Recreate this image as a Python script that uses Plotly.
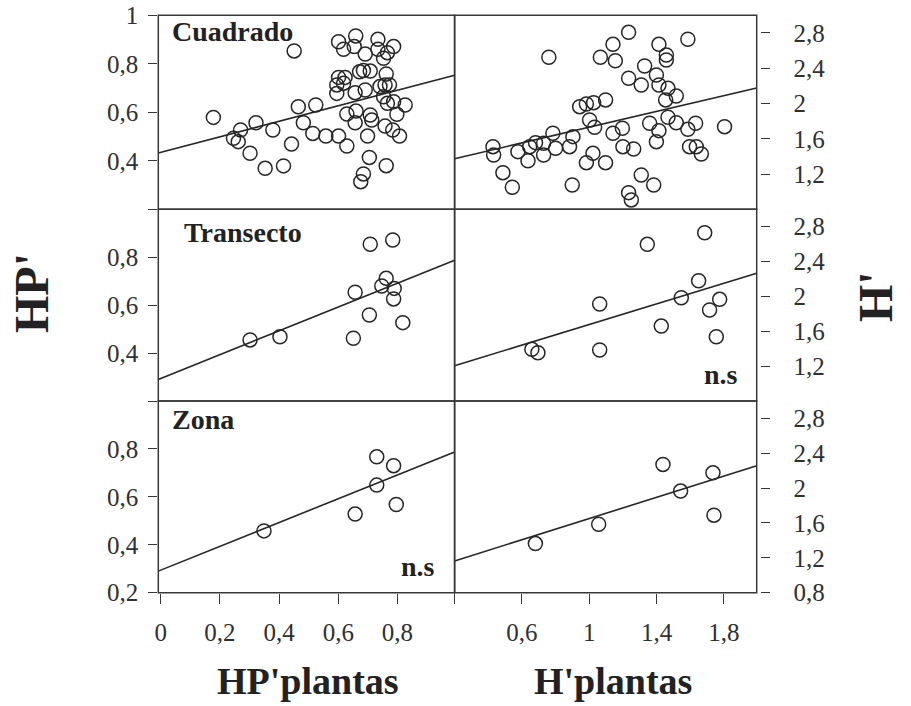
import numpy as np
import plotly.graph_objects as go
from plotly.subplots import make_subplots

# ---------------- data ----------------
panel_names = ["Cuadrado", "Transecto", "Zona"]

# Left column: HP' vs HP'plantas
cuad_hp_x = [0.451, 0.178, 0.601, 0.659, 0.618, 0.654, 0.691, 0.734, 0.734, 0.787,
             0.753, 0.766, 0.601, 0.623, 0.595, 0.618, 0.672, 0.685, 0.708, 0.762,
             0.595, 0.657, 0.691, 0.741, 0.758, 0.773, 0.753, 0.766, 0.787, 0.826,
             0.465, 0.524, 0.482, 0.629, 0.660, 0.708, 0.713, 0.798, 0.657, 0.758,
             0.784, 0.807, 0.322, 0.270, 0.246, 0.262, 0.379, 0.514, 0.558, 0.601,
             0.629, 0.699, 0.442, 0.302, 0.353, 0.415, 0.705, 0.762, 0.685, 0.676]
cuad_hp_y = [0.853, 0.579, 0.891, 0.915, 0.860, 0.871, 0.840, 0.901, 0.860, 0.871,
             0.823, 0.846, 0.744, 0.744, 0.713, 0.720, 0.767, 0.772, 0.770, 0.758,
             0.678, 0.681, 0.692, 0.706, 0.713, 0.713, 0.664, 0.637, 0.644, 0.630,
             0.623, 0.630, 0.557, 0.593, 0.605, 0.589, 0.568, 0.592, 0.557, 0.543,
             0.527, 0.502, 0.557, 0.527, 0.493, 0.479, 0.527, 0.513, 0.502, 0.502,
             0.461, 0.502, 0.469, 0.431, 0.369, 0.379, 0.414, 0.380, 0.346, 0.314]
tran_hp_x = [0.302, 0.403, 0.651, 0.657, 0.705, 0.708, 0.784, 0.747, 0.762, 0.789, 0.787, 0.818]
tran_hp_y = [0.455, 0.468, 0.462, 0.654, 0.559, 0.854, 0.872, 0.680, 0.712, 0.670, 0.626, 0.527]
zona_hp_x = [0.349, 0.657, 0.730, 0.730, 0.787, 0.796]
zona_hp_y = [0.458, 0.528, 0.767, 0.649, 0.730, 0.568]

# Right column: H' vs H'plantas
cuad_h_x = [0.760, 1.234, 1.141, 1.066, 1.155, 1.414, 1.586, 1.458, 1.458, 1.329,
            1.234, 1.309, 1.399, 1.414, 1.468, 1.454, 1.517, 0.943, 0.983, 1.026,
            1.097, 1.002, 1.032, 1.141, 1.197, 1.359, 1.414, 1.468, 1.517, 1.586,
            1.632, 1.804, 1.399, 1.200, 1.264, 1.596, 1.636, 1.666, 0.428, 0.432,
            0.576, 0.636, 0.646, 0.729, 0.729, 0.784, 0.800, 0.883, 0.903, 1.022,
            0.983, 1.097, 0.487, 0.543, 0.899, 1.309, 1.383, 1.234, 1.250, 0.681]
cuad_h_y = [2.524, 2.807, 2.671, 2.524, 2.485, 2.671, 2.728, 2.550, 2.493, 2.425,
            2.286, 2.210, 2.323, 2.210, 2.172, 2.040, 2.085, 1.964, 1.994, 2.009,
            2.040, 1.813, 1.730, 1.662, 1.719, 1.776, 1.692, 1.844, 1.782, 1.707,
            1.776, 1.737, 1.567, 1.510, 1.484, 1.510, 1.510, 1.427, 1.510, 1.416,
            1.454, 1.351, 1.510, 1.549, 1.416, 1.662, 1.492, 1.510, 1.624, 1.435,
            1.329, 1.329, 1.215, 1.050, 1.076, 1.189, 1.076, 0.989, 0.906, 1.556]
tran_h_x = [0.659, 0.695, 1.062, 1.062, 1.345, 1.428, 1.547, 1.650, 1.686, 1.715, 1.775, 1.755]
tran_h_y = [1.393, 1.354, 1.913, 1.385, 2.598, 1.660, 1.985, 2.180, 2.731, 1.844, 1.967, 1.537]
zona_h_x = [0.680, 1.056, 1.438, 1.543, 1.735, 1.741]
zona_h_y = [1.364, 1.586, 2.272, 1.966, 2.176, 1.690]

# regression lines (intercept, slope)
hp_intercepts = [0.435, 0.294, 0.294]
hp_slopes = [0.320, 0.497, 0.497]
h_intercepts = [1.285, 1.086, 1.042]
h_slopes = [0.446, 0.592, 0.609]

ns_flags_left = [False, False, True]
ns_flags_right = [False, True, False]

# axis ticks
hp_x_ticks = [0, 0.2, 0.4, 0.6, 0.8]
hp_x_labels = ["0", "0,2", "0,4", "0,6", "0,8"]
h_x_ticks = [0.2, 0.6, 1.0, 1.4, 1.8]
h_x_labels = ["", "0,6", "1", "1,4", "1,8"]
hp_y_ticks = [0.2, 0.4, 0.6, 0.8, 1.0]
hp_y_labels_rows = [["", "0,4", "0,6", "0,8", "1"],
                    ["", "0,4", "0,6", "0,8", ""],
                    ["0,2", "0,4", "0,6", "0,8", ""]]
h_y_ticks_rows = [[1.2, 1.6, 2.0, 2.4, 2.8],
                  [1.2, 1.6, 2.0, 2.4, 2.8],
                  [0.8, 1.2, 1.6, 2.0, 2.4, 2.8]]
h_y_labels_rows = [["1,2", "1,6", "2", "2,4", "2,8"],
                   ["1,2", "1,6", "2", "2,4", "2,8"],
                   ["0,8", "1,2", "1,6", "2", "2,4", "2,8"]]

# ---------------- figure ----------------
W, H = 911, 706


def px(x):
    return x / W


def py(y):
    return 1 - y / H


HP_XR = [-0.008, 0.993]
H_XR = [0.2, 1.995]
HP_YR = [0.2, 1.0]
H_YR = [0.8, 3.0]

FONT = "Liberation Serif, Times New Roman, serif"
INK = "#262626"
FRAME = "#383838"

fig = make_subplots(rows=3, cols=2, horizontal_spacing=0, vertical_spacing=0)

left_data = [(cuad_hp_x, cuad_hp_y), (tran_hp_x, tran_hp_y), (zona_hp_x, zona_hp_y)]
right_data = [(cuad_h_x, cuad_h_y), (tran_h_x, tran_h_y), (zona_h_x, zona_h_y)]

marker = dict(symbol="circle-open", size=14, color=INK, line=dict(width=1.5, color=INK))

for r in range(3):
    lx = np.array(HP_XR)
    fig.add_trace(go.Scatter(x=lx, y=hp_intercepts[r] + hp_slopes[r] * lx, mode="lines",
                             line=dict(color=INK, width=1.6), showlegend=False, hoverinfo="skip"),
                  row=r + 1, col=1)
    fig.add_trace(go.Scatter(x=left_data[r][0], y=left_data[r][1], mode="markers",
                             marker=marker, showlegend=False), row=r + 1, col=1)
    rx = np.array(H_XR)
    fig.add_trace(go.Scatter(x=rx, y=h_intercepts[r] + h_slopes[r] * rx, mode="lines",
                             line=dict(color=INK, width=1.6), showlegend=False, hoverinfo="skip"),
                  row=r + 1, col=2)
    fig.add_trace(go.Scatter(x=right_data[r][0], y=right_data[r][1], mode="markers",
                             marker=marker, showlegend=False), row=r + 1, col=2)

# domains (pixel based)
LX0, LX1 = 158.3, 454.6
RX0, RX1 = 454.6, 756.7
ROWS = [(15.3, 209.3), (209.3, 401.0), (401.0, 592.7)]

tickfont = dict(family=FONT, size=25, color="#303030")

for r in range(3):
    top, bot = ROWS[r]
    yd = [py(bot), py(top)]
    nl = r * 2 + 1
    nr = r * 2 + 2
    last = (r == 2)
    fig.update_layout(**{
        f"xaxis{nl if nl > 1 else ''}": dict(
            domain=[px(LX0), px(LX1)], range=HP_XR, showgrid=False, zeroline=False,
            showline=False, ticks="outside" if last else "", ticklen=10, tickwidth=1.3,
            tickcolor=FRAME, tickvals=hp_x_ticks if last else [], ticktext=hp_x_labels if last else [],
            tickfont=tickfont, ticklabelstandoff=7, ticklabeloverflow="allow", automargin=False),
        f"yaxis{nl if nl > 1 else ''}": dict(
            domain=yd, range=HP_YR, showgrid=False, zeroline=False, showline=False,
            ticks="outside", ticklen=9, tickwidth=1.3, tickcolor=FRAME,
            tickvals=hp_y_ticks, ticktext=hp_y_labels_rows[r], tickfont=tickfont,
            ticklabelstandoff=5, ticklabeloverflow="allow", automargin=False),
        f"xaxis{nr}": dict(
            domain=[px(RX0), px(RX1)], range=H_XR, showgrid=False, zeroline=False,
            showline=False, ticks="outside" if last else "", ticklen=10, tickwidth=1.3,
            tickcolor=FRAME, tickvals=h_x_ticks if last else [], ticktext=h_x_labels if last else [],
            tickfont=tickfont, ticklabelstandoff=7, ticklabeloverflow="allow", automargin=False),
        f"yaxis{nr}": dict(
            domain=yd, range=H_YR, showgrid=False, zeroline=False, showline=False,
            anchor="free", position=px(759.5), side="right",
            ticks="outside", ticklen=9, tickwidth=1.3, tickcolor=FRAME,
            tickvals=h_y_ticks_rows[r], ticktext=h_y_labels_rows[r], tickfont=tickfont,
            ticklabelstandoff=19, ticklabeloverflow="allow", automargin=False),
    })

# frames
shapes = []
for r in range(3):
    top, bot = ROWS[r]
    for (x0, x1) in [(LX0, LX1), (RX0, RX1)]:
        shapes.append(dict(type="rect", xref="paper", yref="paper",
                           x0=px(x0), x1=px(x1), y0=py(bot), y1=py(top),
                           line=dict(color=FRAME, width=1.5), fillcolor="rgba(0,0,0,0)",
                           layer="above"))
fig.update_layout(shapes=shapes)

ann = []
bold = dict(family=FONT, size=28, color="#222222")
label_pos = [(170, 31), (182, 232), (170, 419)]
for r in range(3):
    ann.append(dict(text=f"<b>{panel_names[r]}</b>", x=px(label_pos[r][0]), y=py(label_pos[r][1]),
                    xref="paper", yref="paper", xanchor="left", yanchor="middle",
                    showarrow=False, font=bold))
for r in range(3):
    top, bot = ROWS[r]
    if ns_flags_left[r]:
        ann.append(dict(text="<b>n.s</b>", x=px(437), y=py(bot - 26), xref="paper", yref="paper",
                        xanchor="right", yanchor="middle", showarrow=False, font=bold))
    if ns_flags_right[r]:
        ann.append(dict(text="<b>n.s</b>", x=px(740), y=py(bot - 27), xref="paper", yref="paper",
                        xanchor="right", yanchor="middle", showarrow=False, font=bold))

title_font = dict(family=FONT, size=38, color="#222222")
ann.append(dict(text="<b>HP'plantas</b>", x=px(308), y=py(681), xref="paper", yref="paper",
                xanchor="center", yanchor="middle", showarrow=False, font=title_font))
ann.append(dict(text="<b>H'plantas</b>", x=px(613), y=py(681), xref="paper", yref="paper",
                xanchor="center", yanchor="middle", showarrow=False, font=title_font))
vfont = dict(family=FONT, size=48, color="#222222")
ann.append(dict(text="<b>HP'</b>", x=px(31), y=py(293), xref="paper", yref="paper",
                xanchor="center", yanchor="middle", textangle=-90, showarrow=False, font=vfont))
ann.append(dict(text="<b>H'</b>", x=px(876), y=py(297), xref="paper", yref="paper",
                xanchor="center", yanchor="middle", textangle=-90, showarrow=False, font=vfont))

fig.update_layout(annotations=ann, width=W, height=H,
                  margin=dict(l=0, r=0, t=0, b=0, pad=0, autoexpand=False),
                  paper_bgcolor="white", plot_bgcolor="white", showlegend=False,
                  font=dict(family=FONT))

# remove the default page margin so the figure sits at the window origin
fig.write_html("out.html",
               config={"displayModeBar": False},
               post_script="document.body.style.margin='0';document.body.style.overflow='hidden';"
                           "document.documentElement.style.overflow='hidden';")
